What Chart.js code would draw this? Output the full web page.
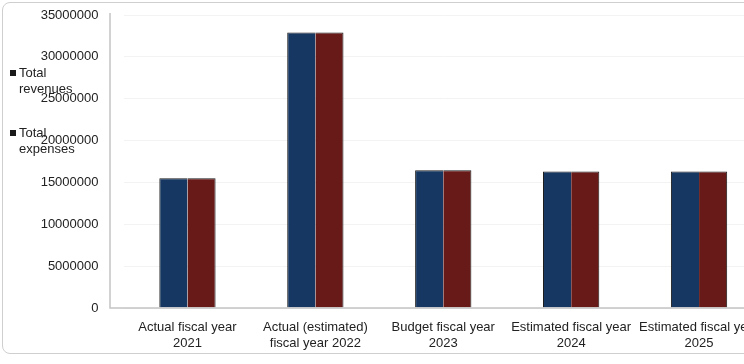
<!doctype html>
<html lang="en">
<head>
<meta charset="utf-8">
<title>Revenues and expenses</title>
<script src="https://cdn.jsdelivr.net/npm/chart.js"></script>
<style>
  html, body { margin: 0; padding: 0; background: #fff; overflow: hidden; }
  #wrap { position: relative; width: 744px; height: 364px; overflow: hidden; }
  #frame { position: absolute; left: 2px; top: 2px; width: 748px; height: 350px;
           border: 1px solid #cfcfcf; border-radius: 8px; }
  canvas { position: absolute; left: 0; top: 0; }
</style>
</head>
<body>
<div id="wrap">
  <div id="frame"></div>
  <canvas id="chart" width="770" height="364"></canvas>
</div>
<script>
// data
const years = [
  ['Actual fiscal year', '2021'],
  ['Actual (estimated)', 'fiscal year 2022'],
  ['Budget fiscal year', '2023'],
  ['Estimated fiscal year', '2024'],
  ['Estimated fiscal year', '2025']
];
const revenues = [15500000, 32900000, 16450000, 16300000, 16300000];
const expenses = [15500000, 32900000, 16450000, 16300000, 16300000];
const seriesNames = [['Total', 'revenues'], ['Total', 'expenses']];
const yTicks = [0, 5000000, 10000000, 15000000, 20000000, 25000000, 30000000, 35000000];

const blue = 'rgb(22, 55, 98)';
const red = 'rgb(104, 26, 24)';

// axis lines start a bit left of the plot area, legend sits over the tick labels
const extras = {
  id: 'extras',
  afterDraw(chart) {
    const ctx = chart.ctx;
    const a = chart.chartArea;
    ctx.save();
    ctx.strokeStyle = '#c4c4c4';
    ctx.lineWidth = 1.5;
    ctx.beginPath();
    ctx.moveTo(110, a.top - 2);
    ctx.lineTo(110, a.bottom);
    ctx.lineTo(a.right, a.bottom);
    ctx.stroke();

    ctx.font = '13px "Liberation Sans", Arial, sans-serif';
    ctx.textBaseline = 'middle';
    const ys = [73, 133];
    chart.data.datasets.forEach((ds, i) => {
      ctx.fillStyle = '#1a1a1a';
      ctx.fillRect(10, ys[i] - 3, 6, 6);
      ctx.fillStyle = '#222';
      ds.label.forEach((line, j) => ctx.fillText(line, 19, ys[i] + j * 16));
    });
    ctx.restore();
  }
};

new Chart(document.getElementById('chart'), {
  type: 'bar',
  data: {
    labels: years,
    datasets: [
      { label: seriesNames[0], data: revenues, backgroundColor: blue, borderColor: '#1b1b1b', borderWidth: { top: 1, left: 1 }, borderSkipped: 'bottom' },
      { label: seriesNames[1], data: expenses, backgroundColor: red, borderColor: '#1b1b1b', borderWidth: { top: 1, right: 1 }, borderSkipped: 'bottom' }
    ]
  },
  options: {
    responsive: false,
    animation: false,
    layout: { padding: { left: 0, right: 7, top: 15, bottom: 6 } },
    datasets: { bar: { barPercentage: 1, categoryPercentage: 0.44 } },
    plugins: { legend: { display: false }, tooltip: { enabled: false } },
    scales: {
      x: {
        grid: { display: false },
        border: { display: false },
        ticks: {
          color: '#222', padding: 4, maxRotation: 0, autoSkip: false,
          font: { family: '"Liberation Sans", Arial, sans-serif', size: 13, lineHeight: 1.2 }
        },
        afterFit(scale) { scale.height = 50; }
      },
      y: {
        min: 0, max: 35000000,
        afterBuildTicks(scale) { scale.ticks = yTicks.map(v => ({ value: v })); },
        grid: { color: '#f3f3f3', drawTicks: false },
        border: { display: false },
        ticks: {
          color: '#222', padding: 25,
          font: { family: '"Liberation Sans", Arial, sans-serif', size: 13 },
          callback: v => String(v)
        },
        afterFit(scale) {
          scale.width = 123.5;
          scale.paddingTop = 0;
          scale.paddingBottom = 0;
        }
      }
    }
  },
  plugins: [extras]
});
</script>
</body>
</html>
